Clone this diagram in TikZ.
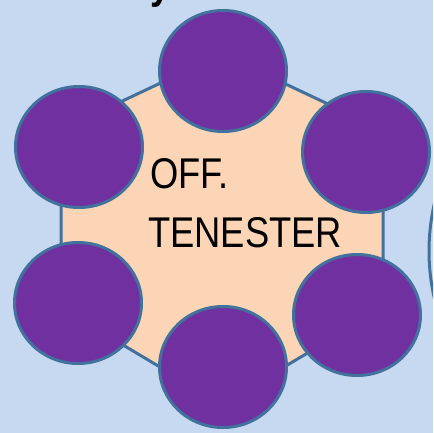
\documentclass[tikz,border=0pt]{standalone}
\usepackage{fontspec}
\setmainfont{Liberation Sans}
\definecolor{bgblue}{HTML}{C6D9F1}
\definecolor{peach}{HTML}{FBD5B5}
\definecolor{purp}{HTML}{7030A0}
\definecolor{edge}{HTML}{41719C}
\begin{document}
\begin{tikzpicture}[x=1pt,y=-1pt,
  hexshape/.style={fill=peach,draw=edge,line width=3pt,line join=round},
  ring/.style={fill=purp,draw=edge,line width=3pt},
  lbl/.style={font=\fontsize{43}{50}\selectfont,inner sep=0pt,anchor=base west,xscale=0.845,transform shape}]
\useasboundingbox (0,0) rectangle (433,433);
\clip (0,0) rectangle (433,433);
\fill[bgblue] (0,0) rectangle (433,433);
% fragment of text above
\node[lbl,font=\fontsize{43}{50}\selectfont\bfseries] (ytail) at (150,-1.5) {y};
% shape fragment at right edge
\draw[edge,line width=3pt,fill=bgblue] (639,251) circle[radius=210];
% hexagon
\coordinate (h1) at (222,54);
\coordinate (h2) at (383,130);
\coordinate (h3) at (383,308);
\coordinate (h4) at (222,404);
\coordinate (h5) at (61,308);
\coordinate (h6) at (61,130);
\draw[hexshape] (h1) -- (h2) -- (h3) -- (h4) -- (h5) -- (h6) -- cycle;
% circles
\draw[ring] (223,71) ellipse[x radius=63.5,y radius=60.5];
\draw[ring] (79,147) ellipse[x radius=63.5,y radius=60.5];
\draw[ring] (366,152) ellipse[x radius=63.5,y radius=60.5];
\draw[ring] (78,303) ellipse[x radius=63.5,y radius=60.5];
\draw[ring] (357,315) ellipse[x radius=63.5,y radius=60.5];
\draw[ring] (223,367) ellipse[x radius=63.5,y radius=60.5];
% label
\node[lbl] (t1) at (150,188) {OFF.};
\node[lbl] (t2) at (148,247) {TENESTER};
\end{tikzpicture}
\end{document}
